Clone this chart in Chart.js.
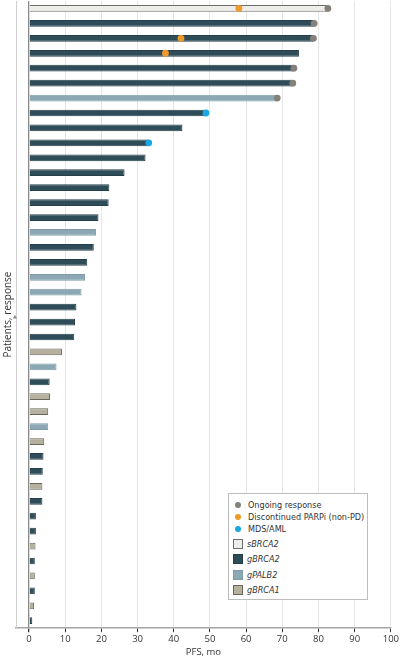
<!DOCTYPE html>
<html>
<head>
<meta charset="utf-8">
<script src="https://cdn.jsdelivr.net/npm/chart.js@4.4.1/dist/chart.umd.min.js"></script>
<style>
html,body{margin:0;padding:0;background:#fff;width:400px;height:658px;overflow:hidden;position:relative;}
#wrap{position:absolute;left:0;top:-3px;width:400px;height:661px;}
#legend{position:absolute;left:228px;top:493px;width:140px;height:107px;border:1px solid #bdbdbd;background:#fff;
  font-family:"Liberation Sans Narrow","DejaVu Sans Condensed","Liberation Sans",sans-serif;font-size:9px;color:#333;box-sizing:border-box;}
.li{position:absolute;left:0;white-space:nowrap;line-height:12px;}
.dot{position:absolute;width:6px;height:6px;border-radius:50%;}
.sq{position:absolute;width:10px;height:10px;box-sizing:border-box;border:1px solid;}
</style>
</head>
<body>
<div id="wrap"><canvas id="c"></canvas></div>
<div id="legend"></div>
<script>
// ---- data ----
const patients = ['1','2','3','4','5','6','7','8','9','10','11','12','13','14','15','16','17','18','19','20','21','22','23','24','25','26','27','28','29','30','31','32','33','34','35','36','37','38','39','40','41','42'];
const pfs = [82.6,78.8,78.6,74.6,73.2,72.9,68.6,48.9,42.4,33.1,32.2,26.4,22.2,22.0,19.2,18.5,17.9,16.1,15.5,14.5,13.1,12.7,12.5,9.1,7.6,5.7,5.8,5.3,5.3,4.2,4.0,3.8,3.7,3.7,1.9,1.9,1.8,1.6,1.6,1.6,1.4,0.9];
const mutation = ['sBRCA2','gBRCA2','gBRCA2','gBRCA2','gBRCA2','gBRCA2','gPALB2','gBRCA2','gBRCA2','gBRCA2','gBRCA2','gBRCA2','gBRCA2','gBRCA2','gBRCA2','gPALB2','gBRCA2','gBRCA2','gPALB2','gPALB2','gBRCA2','gBRCA2','gBRCA2','gBRCA1','gPALB2','gBRCA2','gBRCA1','gBRCA1','gPALB2','gBRCA1','gBRCA2','gBRCA2','gBRCA1','gBRCA2','gBRCA2','gBRCA2','gBRCA1','gBRCA2','gBRCA1','gBRCA2','gBRCA1','gBRCA2'];
const mutationTypes = ['sBRCA2','gBRCA2','gPALB2','gBRCA1'];
const ongoingPatients = ['1','2','3','5','6','7'];
const ongoingValues = [82.6,78.8,78.6,73.2,72.9,68.6];
const discontinuedPatients = ['1','3','4'];
const discontinuedValues = [58.0,42.0,37.7];
const mdsPatients = ['8','10'];
const mdsValues = [48.9,33.1];
const xTicks = [0,10,20,30,40,50,60,70,80,90,100];

// ---- styles ----
const barFill = {sBRCA2:'#ededea', gBRCA2:'#2f4d58', gPALB2:'#8ca8b4', gBRCA1:'#b6b09f'};
const barEdge = {sBRCA2:'#6e6e6e', gBRCA2:'#253f49', gPALB2:'#7f9ba7', gBRCA1:'#6a665b'};
const pointSets = [
  {label:'Ongoing response', pts:ongoingPatients, values:ongoingValues, color:'#858079'},
  {label:'Discontinued PARPi (non-PD)', pts:discontinuedPatients, values:discontinuedValues, color:'#f09a2a'},
  {label:'MDS/AML', pts:mdsPatients, values:mdsValues, color:'#1aa6e2'}
];

const datasets = [];
pointSets.forEach(p => {
  datasets.push({
    type:'scatter', label:p.label, order:0,
    data:p.pts.map((r,i)=>({x:p.values[i], y:r})),
    backgroundColor:p.color, borderColor:p.color, pointRadius:3.4, pointBorderWidth:0,
    xAxisID:'x', yAxisID:'y'
  });
});
mutationTypes.forEach(t => {
  datasets.push({
    type:'bar', label:t, order:1, grouped:false,
    data:pfs.map((v,i)=> mutation[i]===t ? v : null),
    backgroundColor:barFill[t], borderColor:barEdge[t], borderWidth:1,
    categoryPercentage:1, barPercentage:0.45,
    xAxisID:'x', yAxisID:'y'
  });
});

const tickFont = {family:'"Open Sans","Noto Sans",sans-serif', size:9.5};

const arrowPlugin = {
  id:'arrow',
  afterDraw(chart){
    const ctx = chart.ctx;
    const ya = chart.scales.y;
    ctx.save();
    ctx.fillStyle = '#8a8a8a';
    ctx.font = '5px "DejaVu Sans"';
    ctx.textAlign = 'center';
    ctx.textBaseline = 'middle';
    ctx.fillText('▲', 15, (ya.top + ya.bottom)/2 + 2);
    ctx.restore();
  }
};

new Chart(document.getElementById('c'), {
  type:'bar',
  data:{labels:patients, datasets},
  plugins:[arrowPlugin],
  options:{
    indexAxis:'y',
    responsive:true, maintainAspectRatio:false, animation:false,
    layout:{padding:{left:0, right:9, top:0, bottom:0}},
    plugins:{legend:{display:false}, tooltip:{enabled:false}},
    scales:{
      x:{
        type:'linear', min:-3.6, max:100,
        afterBuildTicks: s => { s.ticks = xTicks.map(v=>({value:v})); },
        grid:{
          color: c => (c.tick && c.tick.value===0) ? '#8a8a8a' : '#e6e6e6',
          lineWidth: c => (c.tick && c.tick.value===0) ? 1.3 : 1,
          tickColor:'#333', tickLength:4, drawTicks:true
        },
        border:{display:true, color:'#a5a5a5', width:1.5},
        ticks:{font:tickFont, color:'#333', padding:1, maxRotation:0},
        title:{display:true, text:'PFS, mo', font:tickFont, color:'#333', padding:{top:1,bottom:0}}
      },
      y:{
        type:'category',
        grid:{display:false, drawTicks:false},
        border:{display:true, color:'#cfcfcf', width:1},
        ticks:{display:false},
        title:{display:true, text:'Patients, response', font:{family:'"Open Sans","Noto Sans",sans-serif', size:10}, color:'#333', padding:{top:2,bottom:2}}
      }
    }
  }
});

// ---- legend (HTML overlay) ----
const lg = document.getElementById('legend');
pointSets.forEach((p,i) => {
  const y = 11 + i*11.8;
  lg.insertAdjacentHTML('beforeend',
    `<span class="dot" style="left:6px;top:${y-3}px;background:${p.color}"></span>` +
    `<span class="li" style="left:19px;top:${y-6}px">${p.label}</span>`);
});
mutationTypes.forEach((t,i) => {
  const y = 50 + i*15.3;
  lg.insertAdjacentHTML('beforeend',
    `<span class="sq" style="left:4px;top:${y-5}px;background:${barFill[t]};border-color:${barEdge[t]}"></span>` +
    `<span class="li" style="left:18px;top:${y-6}px;font-style:italic">${t}</span>`);
});
</script>
</body>
</html>
